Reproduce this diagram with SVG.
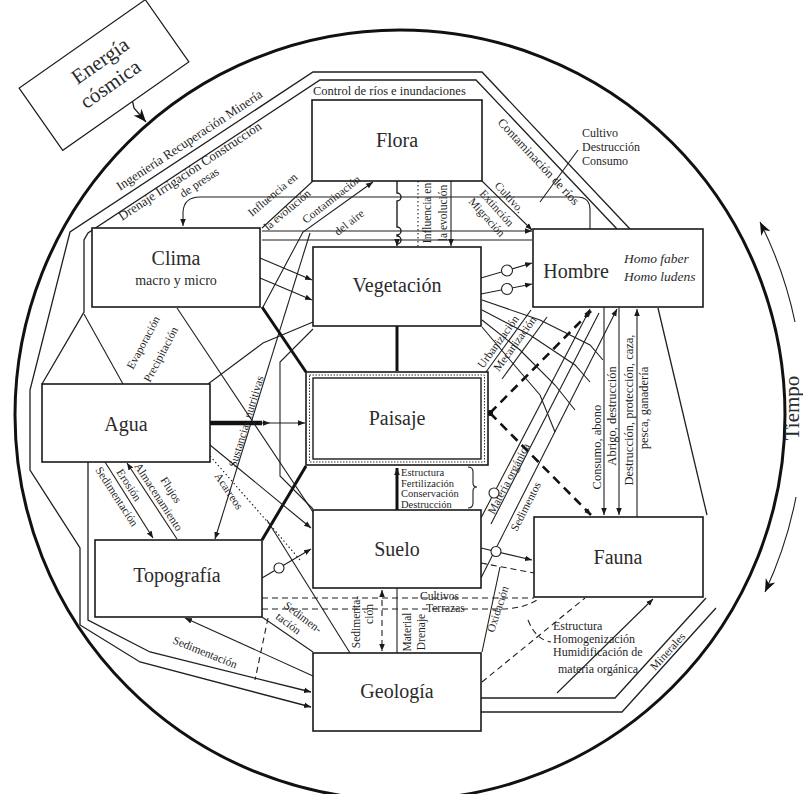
<svg xmlns="http://www.w3.org/2000/svg" width="803" height="794" viewBox="0 0 803 794">
<defs>
<marker id="ah" viewBox="0 0 10 10" refX="10" refY="5" markerWidth="7" markerHeight="7" markerUnits="userSpaceOnUse" orient="auto-start-reverse"><path d="M0,1 L10,5 L0,9 z" fill="#1a1a1a"/></marker>
<marker id="ahb" viewBox="0 0 10 10" refX="10" refY="5" markerWidth="13" markerHeight="13" markerUnits="userSpaceOnUse" orient="auto-start-reverse"><path d="M0,1 L10,5 L0,9 L3,5 z" fill="#111"/></marker>
<style>
.box{fill:#fff;stroke:#1a1a1a;stroke-width:1.6}
.ln{fill:none;stroke:#1f1f1f;stroke-width:1.1}
.fr{fill:none;stroke:#1f1f1f;stroke-width:1.3}
.thk{fill:none;stroke:#111;stroke-width:3}
.dsh{stroke-dasharray:6 4}
.dot{stroke-dasharray:1.5 2.5}
.tds{fill:none;stroke:#111;stroke-width:2.6;stroke-dasharray:9 6}
.circ{fill:#fff;stroke:#1f1f1f;stroke-width:1.1}
.nl{font-family:"Liberation Serif","DejaVu Serif",serif;font-size:20px;fill:#2b2b2b;text-anchor:middle}
.sl{font-family:"Liberation Serif","DejaVu Serif",serif;font-size:12px;fill:#1f1f1f}
.sm{font-size:11.5px}
.vt{font-size:12.5px}
.xs{font-size:10.5px}
.mid{text-anchor:middle}
.it{font-style:italic;font-size:13.5px;text-anchor:start}
</style>
</defs>
<rect width="803" height="794" fill="#fff"/>
<circle cx="400" cy="415" r="385" fill="none" stroke="#111" stroke-width="3"/>

<g id="connectors">
<path class="fr" d="M630,229 L482,72 L313,72 L70,232 L30,390 L30,470 L80,548 L80,625 L140,662 L311,707" marker-end="url(#ah)"/>
<path class="fr" d="M617,229 L476,80 L320,80 L88,233 L84,240 L84,312 L42,384"/>
<path class="fr" d="M88,462 L88,620 L150,652 L311,692" marker-end="url(#ah)"/>
<path class="ln" d="M84,314 L123,384"/>
<path class="fr" d="M658,308 L707,515"/>
<path class="fr" d="M706,598 L615,698 L481,698"/>
<path class="fr" d="M716,608 L622,712 L481,712"/>
<path class="ln" d="M132,99 L134,108 L146,122" marker-end="url(#ahb)" style="stroke-width:1.3"/>
<path class="ln" d="M795,322 A407,407 0 0 0 760,222" marker-end="url(#ahb)"/>
<path class="ln" d="M796,497 A407,407 0 0 1 765,592" marker-end="url(#ahb)"/>

<path class="ln" d="M590,229 V210 Q590,197 577,197 H200 Q184,197 183,212 V226" marker-end="url(#ah)"/>
<path class="ln" d="M262,231 H532" marker-end="url(#ah)"/>
<path class="ln" d="M262,240 H532"/>
<path class="ln" d="M397,181 V193 A4,4 0 0 1 397,201 V227 A4,4 0 0 1 397,235 V236 A4,4 0 0 1 397,244 V246" marker-end="url(#ah)" style="stroke-width:1.4"/>
<path class="ln dot" d="M418,181 V246"/>
<path class="ln" d="M451,181 V246" marker-end="url(#ah)"/>
<path class="ln" d="M262,228 L313,181"/>
<path class="ln" d="M373,182 L303,232 L263,307" marker-start="url(#ah)"/>
<path class="ln" d="M482,181 L532,230" marker-end="url(#ah)"/>
<path class="ln" d="M578,150 L540,202"/>
<path class="ln" d="M260,258 L312,280" marker-end="url(#ah)"/>
<path class="ln" d="M260,278 L312,300" marker-end="url(#ah)"/>
<path class="ln" d="M310,233 L215,539" marker-end="url(#ah)"/>
<path class="ln" d="M532,263 L481,278" marker-start="url(#ah)"/>
<path class="ln" d="M532,284 L481,294" marker-start="url(#ah)"/>
<circle class="circ" cx="507" cy="270.5" r="5.5"/>
<circle class="circ" cx="507" cy="289" r="5.5"/>

<path class="thk" d="M397,326 V371"/>
<path class="thk" d="M210,423 H262" style="stroke-width:4.5"/>
<path class="ln" d="M258,423 H270" marker-end="url(#ah)"/>
<path class="ln" d="M270,423 H305" marker-end="url(#ah)"/>
<path class="thk" d="M262,307 L306,372"/>
<path class="thk" d="M262,540 L306,466"/>
<path class="thk" d="M397,510 V468" marker-end="url(#ah)"/>
<path class="tds" d="M490,413 L591,311" marker-end="url(#ah)"/>
<path class="tds" d="M490,413 L591,515" marker-end="url(#ah)"/>
<circle cx="490" cy="413" r="3" fill="#111"/>
<path class="ln" d="M486,372 L531,310"/>
<path class="ln" d="M502,379 L547,317"/>
<path class="ln" d="M313,329 L280,362 L280,476 L313,509"/>

<path class="ln" d="M482,300 L540,320 L590,345 L603,360"/>
<path class="ln" d="M482,310 L530,335 L575,365 L590,382"/>
<path class="ln" d="M482,320 L520,350 L555,385 L575,410"/>
<path class="ln" d="M482,327 L510,360 L540,395 L555,432"/>

<path class="ln" d="M481,518 L590,309" marker-end="url(#ah)"/>
<path class="ln" d="M491,524 L599,313"/>
<circle class="circ" cx="494" cy="493" r="5"/>
<path class="ln" d="M481,578 L617,309" marker-end="url(#ah)"/>
<path class="ln" d="M604,307 V515" marker-end="url(#ah)"/>
<path class="ln" d="M619,307 V515" marker-end="url(#ah)"/>
<path class="ln" d="M637,517 V309" marker-end="url(#ah)"/>

<path class="ln" d="M481,548 L532,560" marker-end="url(#ah)"/>
<circle class="circ" cx="496" cy="551.5" r="5"/>
<path class="ln dsh" d="M481,563 L534,573"/>
<path class="ln" d="M482,652 L500,567"/>
<path class="ln dsh" d="M262,598 H534"/>
<path class="ln dsh" d="M262,609 L500,609 Q525,609 540,598"/>
<path class="ln dsh" d="M482,682 L585,598"/>
<path class="ln" d="M653,599 L557,693" marker-start="url(#ah)"/>
<path class="ln dsh" d="M528,620 Q536,640 551,642"/>

<path class="ln" d="M105,462 L153,538" marker-end="url(#ah)"/>
<path class="ln" d="M127,463 L177,539" marker-start="url(#ah)"/>
<path class="ln dot" d="M210,456 L272,527 L300,560"/>
<path class="ln" d="M262,578 L311,549" marker-end="url(#ah)"/>
<circle class="circ" cx="279" cy="568" r="5"/>
<path class="ln" d="M185,618 L313,676" marker-start="url(#ah)"/>
<path class="ln" d="M262,617 L313,652"/>
<path class="ln dsh" d="M268,618 L255,680"/>
<path class="ln" d="M267,520 L350,653"/>
<path class="ln dsh" d="M382,590 V651" marker-start="url(#ah)" marker-end="url(#ah)"/>
<path class="ln" d="M397,588 V653"/>
<path class="ln" d="M177,308 L313,512"/>
<path class="ln" d="M208,384 L263,343 L313,322"/>
<path class="ln" d="M210,445 L311,528" marker-end="url(#ah)"/>
<path class="ln" d="M468,467 Q473,467 473,472 V483 Q473,487 477,487 Q473,487 473,491 V503 Q473,508 468,508"/>
</g>

<g id="node-energia" transform="translate(104,75) rotate(-35)">
<rect class="box" x="-77" y="-38" width="154" height="76" style="stroke-width:1.2"/>
<text class="nl" x="5" y="-7" style="font-size:21px">Energía</text>
<text class="nl" x="0" y="18" style="font-size:21px">cósmica</text>
</g>
<g id="node-flora"><rect class="box" x="312" y="100" width="170" height="81"/><text class="nl" x="397" y="147">Flora</text></g>
<g id="node-vegetacion"><rect class="box" x="313" y="247" width="168" height="79"/><text class="nl" x="397" y="292">Vegetación</text></g>
<g id="node-clima"><rect class="box" x="92" y="228" width="168" height="79"/><text class="nl" x="176" y="265">Clima</text><text class="nl" x="176" y="285" style="font-size:14px">macro y micro</text></g>
<g id="node-hombre"><rect class="box" x="533" y="229" width="170" height="78"/><text class="nl" x="576" y="278">Hombre</text><text class="nl it" x="624" y="263">Homo faber</text><text class="nl it" x="624" y="281">Homo ludens</text></g>
<g id="node-agua"><rect class="box" x="42" y="384" width="168" height="78"/><text class="nl" x="126" y="431">Agua</text></g>
<g id="node-paisaje"><rect class="box" x="306" y="372" width="182" height="93"/><rect x="309.5" y="375" width="175" height="87" fill="none" stroke="#333" stroke-width="1" stroke-dasharray="1.5 1.5"/><rect x="313" y="378" width="168" height="81" fill="none" stroke="#1a1a1a" stroke-width="1.4"/><text class="nl" x="397" y="425">Paisaje</text></g>
<g id="node-topografia"><rect class="box" x="95" y="540" width="167" height="77"/><text class="nl" x="177" y="582">Topografía</text></g>
<g id="node-suelo"><rect class="box" x="313" y="510" width="168" height="78"/><text class="nl" x="397" y="556">Suelo</text></g>
<g id="node-fauna"><rect class="box" x="534" y="517" width="169" height="80"/><text class="nl" x="618" y="564">Fauna</text></g>
<g id="node-geologia"><rect class="box" x="313" y="653" width="168" height="78"/><text class="nl" x="397" y="698">Geología</text></g>

<g id="labels">
<text class="sl" x="313" y="95" style="font-size:12.5px">Control de ríos e inundaciones</text>
<text class="sl" x="120" y="191" transform="rotate(-33.4 120 191)" style="font-size:13px">Ingeniería Recuperación Minería</text>
<text class="sl" x="122" y="221" transform="rotate(-33.4 122 221)" style="font-size:13px">Drenaje Irrigación Construcción</text>
<text class="sl" x="183" y="198" transform="rotate(-33.4 183 198)">de presas</text>
<text class="sl" x="497" y="123" transform="rotate(47 497 123)" style="font-size:12.5px">Contaminación de ríos</text>
<text class="sl" x="582" y="137">Cultivo</text>
<text class="sl" x="582" y="151">Destrucción</text>
<text class="sl" x="582" y="165">Consumo</text>
<text class="sl sm" x="252" y="217" transform="rotate(-40 252 217)">Influencia en</text>
<text class="sl sm" x="268" y="231" transform="rotate(-40 268 231)">la evolución</text>
<text class="sl sm" x="306" y="224" transform="rotate(-38 306 224)">Contaminación</text>
<text class="sl sm" x="338" y="236" transform="rotate(-38 338 236)">del aire</text>
<text class="sl sm mid" x="431" y="213" transform="rotate(-90 431 213)">Influencia en</text>
<text class="sl sm mid" x="447" y="213" transform="rotate(-90 447 213)">la evolución</text>
<text class="sl sm" x="494" y="186" transform="rotate(48 494 186)">Cultivo.</text>
<text class="sl sm" x="479" y="194" transform="rotate(48 479 194)">Extinción</text>
<text class="sl sm" x="468" y="202" transform="rotate(48 468 202)">Migración</text>
<text class="sl sm" x="133" y="370" transform="rotate(-62 133 370)">Evaporación</text>
<text class="sl sm" x="150" y="383" transform="rotate(-62 150 383)">Precipitación</text>
<text class="sl sm" x="236" y="468" transform="rotate(-73 236 468)">Sustancias nutritivas</text>
<text class="sl sm" x="95" y="470" transform="rotate(57 95 470)">Sedimentación</text>
<text class="sl sm" x="116" y="472" transform="rotate(57 116 472)">Erosión</text>
<text class="sl sm" x="134" y="466" transform="rotate(57 134 466)">Almacenamiento</text>
<text class="sl sm" x="160" y="480" transform="rotate(57 160 480)">Flujos</text>
<text class="sl sm" x="214" y="476" transform="rotate(56 214 476)">Acarreos</text>
<text class="sl sm" x="283" y="607" transform="rotate(37 283 607)">Sedimen-</text>
<text class="sl sm" x="275" y="618" transform="rotate(37 275 618)">tación</text>
<text class="sl sm" x="172" y="643" transform="rotate(22 172 643)">Sedimentación</text>
<text class="sl sm mid" x="360" y="622" transform="rotate(-90 360 622)">Sedimenta-</text>
<text class="sl sm mid" x="373" y="614" transform="rotate(-90 373 614)">ción</text>
<text class="sl sm mid" x="411" y="632" transform="rotate(-90 411 632)">Material</text>
<text class="sl sm mid" x="425" y="632" transform="rotate(-90 425 632)">Drenaje</text>
<text class="sl sm" x="420" y="600">Cultivos</text>
<text class="sl sm" x="426" y="612">Terrazas</text>
<text class="sl sm" x="494" y="633" transform="rotate(-72 494 633)">Oxidación</text>
<text class="sl" x="553" y="630">Estructura</text>
<text class="sl" x="553" y="643">Homogenización</text>
<text class="sl" x="553" y="656">Humidificación de</text>
<text class="sl" x="558" y="673">materia orgánica</text>
<text class="sl sm" x="655" y="671" transform="rotate(-47.7 655 671)">Minerales</text>
<text class="sl sm" x="483" y="369" transform="rotate(-54 483 369)">Urbanización</text>
<text class="sl sm" x="499" y="372" transform="rotate(-54 499 372)">Mecanización</text>
<text class="sl sm" x="494" y="515" transform="rotate(-62.5 494 515)">Materia orgánica</text>
<text class="sl sm" x="517" y="532" transform="rotate(-63 517 532)">Sedimentos</text>
<text class="sl vt mid" x="601" y="447" transform="rotate(-90 601 447)">Consumo, abono</text>
<text class="sl vt mid" x="616" y="416" transform="rotate(-90 616 416)">Abrigo, destrucción</text>
<text class="sl vt mid" x="633" y="410" transform="rotate(-90 633 410)">Destrucción, protección, caza,</text>
<text class="sl vt mid" x="648" y="408" transform="rotate(-90 648 408)">pesca, ganadería</text>
<text class="sl xs" x="401" y="476">Estructura</text>
<text class="sl xs" x="401" y="486.5">Fertilización</text>
<text class="sl xs" x="401" y="497">Conservación</text>
<text class="sl xs" x="401" y="507.5">Destrucción</text>
<text class="nl" x="799" y="408" transform="rotate(-90 799 408)" style="font-size:21px">Tiempo</text>
</g>
</svg>
